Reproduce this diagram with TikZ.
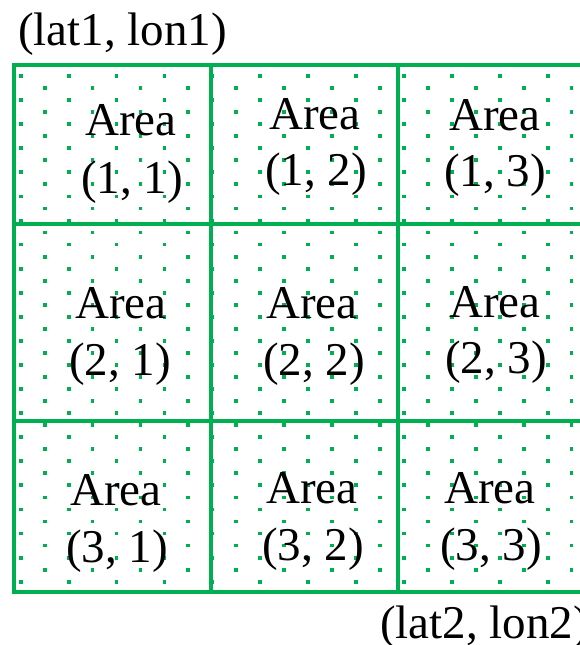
\documentclass[tikz,border=0pt]{standalone}
\usepackage{fontspec}
\setmainfont{Liberation Serif}
\definecolor{grn}{RGB}{0,176,80}
\begin{document}
\begin{tikzpicture}[x=1pt,y=-1pt,
  gridline/.style={draw=grn, line width=4pt},
  lbl/.style={anchor=base, inner sep=0pt, font=\fontsize{47}{50}\selectfont, text=black},
  corner/.style={anchor=base west, inner sep=0pt, font=\fontsize{47}{50}\selectfont, text=black},
  dotmark/.style={fill=grn}]
\useasboundingbox (0,0) rectangle (579,645);
% dotted fill
\begin{scope}
  \clip (13.7,64.7) rectangle (590,592.3);
  \foreach \r in {0,...,43} {
    \pgfmathsetmacro\yy{76+12.04*\r}
    \pgfmathsetmacro\xo{20.7+23.95*mod(\r,2)}
    \foreach \c in {0,...,12} {
      \pgfmathsetmacro\xx{\xo+47.9*\c}
      \fill[dotmark] (\xx-1.9,\yy-1.9) rectangle (\xx+1.9,\yy+1.9);
    }
  }
\end{scope}
% grid lines
\coordinate (tl) at (13.7,64.7);
\coordinate (bl) at (13.7,592.3);
\draw[gridline] (600,64.7) -- (tl) -- (bl) -- (600,592.3);
\draw[gridline] (13.7,224) -- (600,224);
\draw[gridline] (13.7,420.7) -- (600,420.7);
\draw[gridline] (211.3,64.7) -- (211.3,592.3);
\draw[gridline] (398.3,64.7) -- (398.3,592.3);
% cell texts
\node[lbl] (t11) at (131,135) {Area};
\node[lbl] (n11) at (132,193) {(1, 1)};
\node[lbl] (t12) at (315,129) {Area};
\node[lbl] (n12) at (316,185) {(1, 2)};
\node[lbl] (t13) at (495,130) {Area};
\node[lbl] (n13) at (495,186) {(1, 3)};
\node[lbl] (t21) at (121,318) {Area};
\node[lbl] (n21) at (120,375) {(2, 1)};
\node[lbl] (t22) at (312,318) {Area};
\node[lbl] (n22) at (314,375) {(2, 2)};
\node[lbl] (t23) at (495,317) {Area};
\node[lbl] (n23) at (496,373) {(2, 3)};
\node[lbl] (t31) at (116,505) {Area};
\node[lbl] (n31) at (117,562) {(3, 1)};
\node[lbl] (t32) at (312,503) {Area};
\node[lbl] (n32) at (313,560) {(3, 2)};
\node[lbl] (t33) at (490,503) {Area};
\node[lbl] (n33) at (491,560) {(3, 3)};
% corner labels
\node[corner] (c1) at (18,45) {(lat1, lon1)};
\node[corner] (c2) at (380,638) {(lat2, lon2)};
\end{tikzpicture}
\end{document}
